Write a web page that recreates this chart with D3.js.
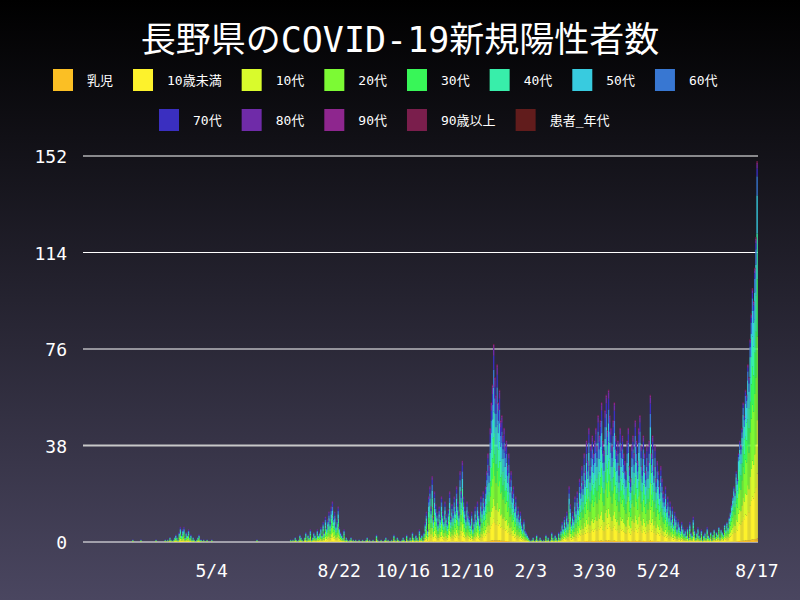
<!DOCTYPE html>
<html><head><meta charset="utf-8">
<script src="https://cdn.jsdelivr.net/npm/d3@7"></script>
<style>body{margin:0;}svg{display:block;}</style></head>
<body><svg id="c" width="800" height="600"></svg>
<script>
const categories=["乳児","10歳未満","10代","20代","30代","40代","50代","60代","70代","80代","90代","90歳以上","患者_年代"];
const colors=["#fbbf24","#fdf22c","#d9fb2c","#7cfa34","#38f658","#38eeaa","#38cbdf","#3877d2","#3a2fc0","#6f2ba8","#8e268e","#7a1e4c","#611c1c"];
const shareEarly=[0.01,0.11,0.1,0.18,0.13,0.13,0.12,0.09,0.07,0.04,0.015,0.005,0];
const shareLate=[0.01,0.17,0.14,0.22,0.15,0.12,0.1,0.05,0.02,0.01,0.005,0.005,0];
const startDate="2020-01-15";
const dailyTotals=[].concat(
 new Array(42).fill(0),
 [1,0,0,0,0,0,0,1,0,0,0,0,0,0,0,0,0,0,0,0,1,0,0,0,0,0,0,0,1,0],
 [1,0,2,1,0,1,2,3,2,1,4,6,3,5,6,2,4,3,5,2,3,1,2,1,0,1,2,3,1,1,0,1,0,0,1,0,0,0,1,0,0,0,0,0,0,0,0],
 [0,0,0,0,0,0,0,0,0,0,0,0,0,0,0,0,0,0,0,0,0,0,0,0,0,0,0,0,0,0,1,0,0,0,0,0,0,0,0,0,0,0,0,0,0,0,0,0,0,0,0,0,0,0,0,0,0,0,0],
 [1,0,1,0,2,1,0,1,3,2,1,0,2,4,1,3,2,5,1,2,4,3,2,5,3,4,6,3,8,4,10,6,9,12,8,14,16,10,12,7,9,14,6,4,3,2,5,1,2,1,0,1,2,0,1,0,1,0,0,1,0],
 [0,1,0,0,1,2,0,1,0,0,1,0,0,3,1,0,0,1,0,0,1,2,0,1,0,0,1,0,3,1,0,2,1,0,0,1,2,1,0,3,1,0,2,1,4,2,1,3,2,1,5,2,3,1,4],
 [8,12,5,18,22,14,26,10,20,15,12,8,14,10,18,12,9,16,11,8,13,20,10,15,12,18,14,22,16,12,28,20,32,18,14,10,16,12],
 [10,8,12,6,9,14,10,16,12,8,18,14,20,16],
 [22,28,35,30,45,55,62,78,65,58,70,55,60,48,50,42,45,38,40,30,35,25,28,20,22,15,18,12,14,10,12,8,6,9,5,4,3],
 [2,1,0,1,2,0,1,3,1,0,2,1,0,1,0,3,1,2,0,1,4,2,1,3,2,1,4,2],
 [5,8,6,10,7,12,9,22,15,8,12,10,18,14,20,16,25,22,30,24,35,28,40,32,45,30,38,42,35,40],
 [45,38,50,42,48,55,40,36,52,58,44,60,50,45,38,48,55,42,36,40,30,45,38,42,35,32,28,40,45,30,25,38,42,35,48,40,32,45,50,38,30,42,35,28,38,32],
 [40,58,35,42,30,38,25,32,28,22,30,25,20,18],
 [22,15,18,12,16,10,14,8,12,10,6,9,7,5,8,6,4],
 [5,3,6,2,8,4,3,10,5,2,4,6,3,2,5,1,3,4,2,6,3,2,4,1,3,5,2,4,3,6,2,5,4,3,7,5,8,6,10],
 [12,15,18,22,20,28,25,35,40,38,45,55,50,60,58,70,65,80,90,100,95,108,120,150]
);
const yTicks=[0,38,76,114,152];
const xTickLabels=["5/4","8/22","10/16","12/10","2/3","3/30","5/24","8/17"];
const xTickDates=["2020-05-04","2020-08-22","2020-10-16","2020-12-10","2021-02-03","2021-03-30","2021-05-24","2021-08-17"];

const svg=d3.select("#c");
const defs=svg.append("defs");
const g=defs.append("linearGradient").attr("id","bg").attr("x1",0).attr("y1",0).attr("x2",0).attr("y2",1);
g.append("stop").attr("offset","0%").attr("stop-color","#000000");
g.append("stop").attr("offset","100%").attr("stop-color","#4a4660");
svg.append("rect").attr("width",800).attr("height",600).attr("fill","url(#bg)");
const FONT="'DejaVu Sans Mono','Noto Sans CJK JP',monospace";
svg.append("text").attr("x",400).attr("y",52).attr("text-anchor","middle").attr("fill","#fff")
 .attr("font-size",35).attr("font-family","'DejaVu Sans Mono','Noto Sans CJK JP'").text("長野県のCOVID-19新規陽性者数");

function legendRow(items,y,x0){
  const gr=svg.append("g");
  let x=x0;
  items.forEach(i=>{
    gr.append("rect").attr("x",x).attr("y",y-11).attr("width",20).attr("height",22).attr("fill",colors[i]);
    const t=gr.append("text").attr("x",x+34).attr("y",y+5).attr("fill","#fff").attr("font-size",13).attr("font-family",FONT).text(categories[i]);
    x+=34+t.node().getComputedTextLength()+20;
  });
}
legendRow([0,1,2,3,4,5,6,7],80,53);
legendRow([8,9,10,11,12],120,159);

const parse=d3.timeParse("%Y-%m-%d");
const t0=parse(startDate);
const n=dailyTotals.length;
const x=d3.scaleTime().domain([t0,d3.timeDay.offset(t0,n-1)]).range([84,757]);
const y=d3.scaleLinear().domain([0,152]).range([542,156]);
const step=x(d3.timeDay.offset(t0,1))-x(t0);

svg.append("g").selectAll("line").data(yTicks).join("line")
 .attr("x1",83).attr("x2",758).attr("y1",d=>y(d)).attr("y2",d=>y(d))
 .attr("stroke",d=>d===38?"#c8c8c8":"#fff").attr("stroke-width",d=>d===38?2:1.2);
svg.append("g").selectAll("text").data(yTicks).join("text")
 .attr("x",67).attr("y",d=>y(d)+7).attr("text-anchor","end").attr("fill","#fff").attr("font-size",18).attr("font-family",FONT).text(d=>d);

const rows=dailyTotals.map((tot,i)=>{
  const date=d3.timeDay.offset(t0,i);
  const sh=i>=540?shareLate:shareEarly;
  const r={date};
  categories.forEach((c,k)=>r[c]=tot*sh[k]);
  return r;
});
const series=d3.stack().keys(categories)(rows);
svg.append("g").selectAll("g").data(series).join("g").attr("fill",(d,i)=>colors[i])
 .selectAll("rect").data(d=>d).join("rect")
 .attr("x",d=>x(d.data.date)-step/2).attr("width",step+0.2)
 .attr("y",d=>y(d[1])).attr("height",d=>Math.max(0,y(d[0])-y(d[1])));

svg.append("g").selectAll("text").data(xTickDates).join("text")
 .attr("x",d=>x(parse(d))).attr("y",577).attr("text-anchor","middle").attr("fill","#fff").attr("font-size",18).attr("font-family",FONT)
 .text((d,i)=>xTickLabels[i]);
</script></body></html>
